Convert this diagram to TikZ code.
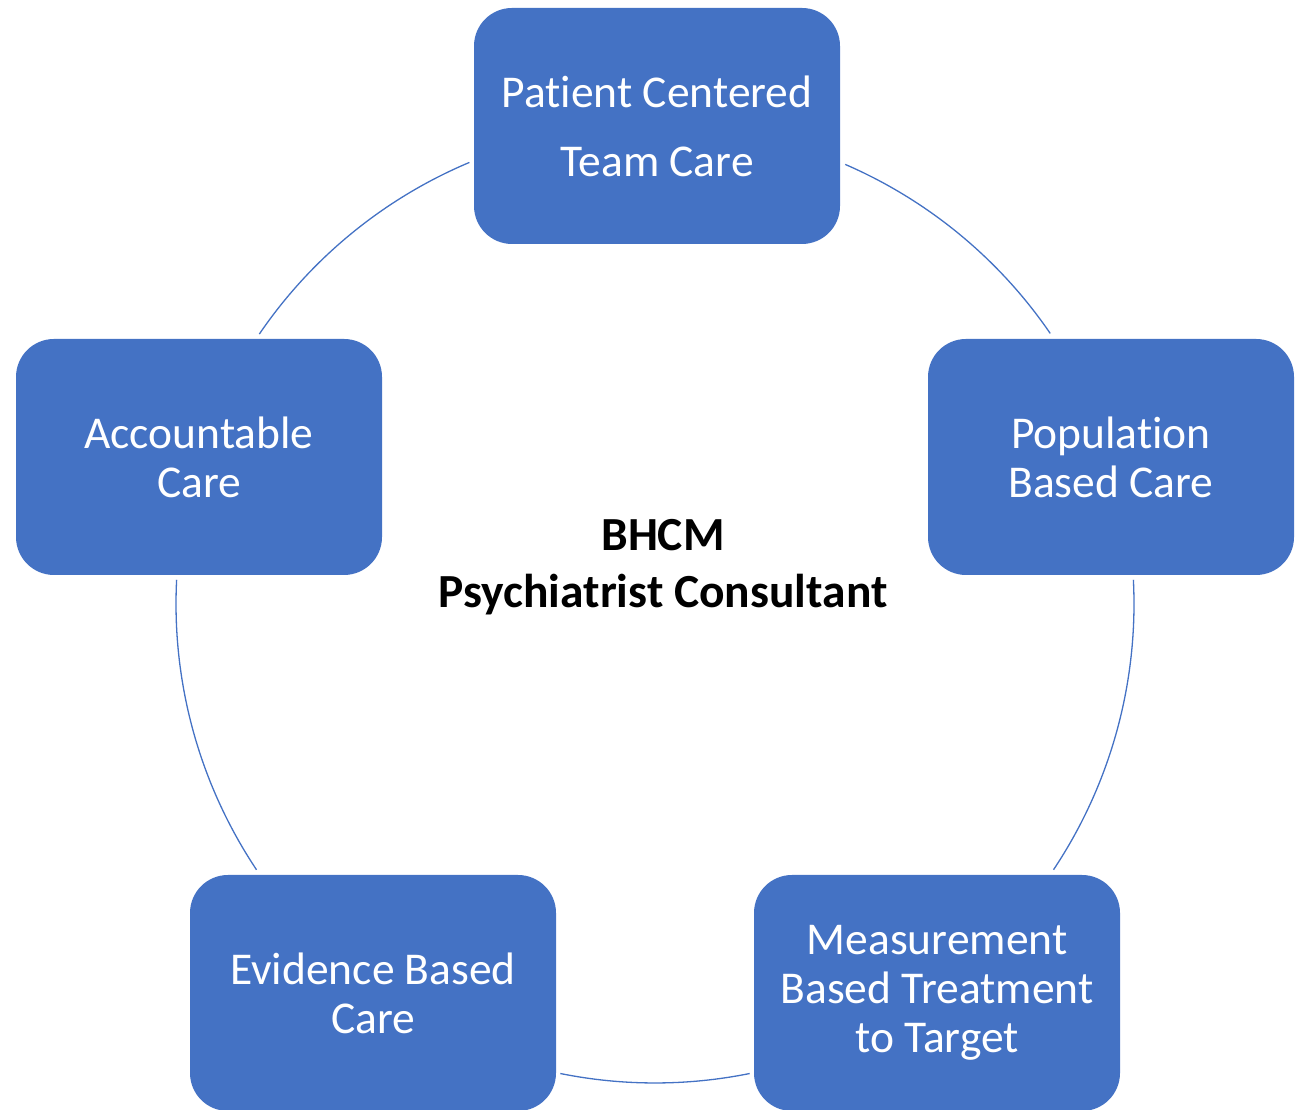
\documentclass[tikz,border=0pt]{standalone}
\usepackage{fontspec}
\setmainfont{Carlito}[Ligatures=NoCommon]
\definecolor{accent}{HTML}{4472C4}
\begin{document}
\begin{tikzpicture}[x=1pt,y=1pt,
  box/.style={rectangle, rounded corners=38pt, fill=accent, minimum width=366pt, minimum height=236pt, text=white, align=center, inner sep=0pt, font=\fontsize{45.5}{49}\selectfont},
  ring/.style={draw=accent, line width=1.3pt},
  hub/.style={align=center, inner sep=0pt, font=\fontsize{47.5}{57}\selectfont\bfseries}]
\useasboundingbox (0,0) rectangle (1304,1110);
\coordinate (c) at (655,506);
% ring segments between the boxes
\draw[ring] ([shift={(66.6:479)}]c) arc[start angle=66.6, end angle=34.4, radius=479];
\draw[ring] ([shift={(2.9:479)}]c) arc[start angle=2.9, end angle=-33.7, radius=479];
\draw[ring] ([shift={(-78.6:479)}]c) arc[start angle=-78.6, end angle=-101.4, radius=479];
\draw[ring] ([shift={(213.7:479)}]c) arc[start angle=213.7, end angle=177.1, radius=479];
\draw[ring] ([shift={(145.7:479)}]c) arc[start angle=145.7, end angle=112.8, radius=479];
% boxes
\node[box, font=\fontsize{45.5}{69}\selectfont] (pc) at (657,984) {Pat\kern0pt ient Centered\\Team Care};
\node[box] (ac) at (199,653) {Accountable\\Care};
\node[box] (pb) at (1111,653) {Populat\kern0pt ion\\Based Care};
\node[box] (eb) at (373,117) {Evidence Based\\Care};
\node[box] (mb) at (937,117) {Measurement\\Based Treatment\\to Target};
% centre
\node[hub] (hub) at (663,543) {BHCM\\Psychiatrist Consultant};
\end{tikzpicture}
\end{document}
